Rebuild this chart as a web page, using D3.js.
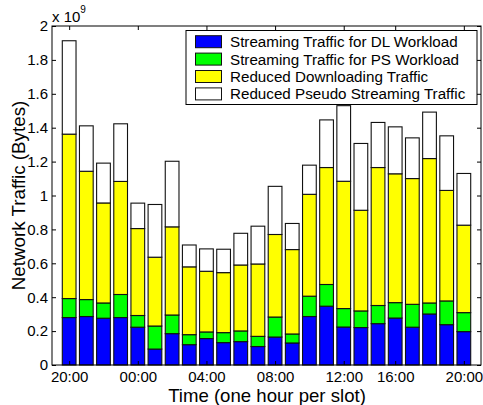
<!DOCTYPE html>
<html><head><meta charset="utf-8">
<script src="https://cdn.jsdelivr.net/npm/d3@7"></script>
<style>
html,body{margin:0;padding:0;background:#fff;}
svg{display:block;font-family:"Liberation Sans",Arial,sans-serif;}
</style></head>
<body><svg id="chart" width="483" height="405"></svg>
<script>
// values in units of 1e9 bytes, one per hourly slot
const slots = d3.range(1, 25);
const streamDL = [0.280,0.286,0.276,0.280,0.223,0.094,0.185,0.120,0.156,0.132,0.138,0.109,0.165,0.130,0.286,0.347,0.224,0.221,0.244,0.277,0.223,0.301,0.238,0.197];
const streamPS = [0.112,0.100,0.090,0.136,0.069,0.136,0.110,0.059,0.039,0.059,0.063,0.060,0.118,0.053,0.120,0.128,0.109,0.098,0.107,0.091,0.135,0.065,0.140,0.112];
const reducedDL = [0.970,0.757,0.590,0.667,0.513,0.406,0.520,0.400,0.358,0.354,0.389,0.427,0.487,0.498,0.601,0.690,0.751,0.594,0.814,0.760,0.742,0.852,0.652,0.516];
const reducedPS = [0.551,0.268,0.235,0.340,0.150,0.311,0.387,0.129,0.132,0.138,0.187,0.223,0.284,0.154,0.172,0.281,0.446,0.394,0.266,0.277,0.240,0.274,0.322,0.305];
const seriesNames = ["Streaming Traffic for DL Workload","Streaming Traffic for PS Workload","Reduced Downloading Traffic","Reduced Pseudo Streaming Traffic"];
const seriesColors = ["#0000ff","#00ff00","#ffff00","#ffffff"];
const xTickSlots = [1,5,9,13,17,20,24];
const xTickLabels = ["20:00","00:00","04:00","08:00","12:00","16:00","20:00"];
const yTicks = [0,0.2,0.4,0.6,0.8,1,1.2,1.4,1.6,1.8,2];

const svg = d3.select("#chart");
const L = 52, R = 481, T = 26, B = 365;
const x = d3.scaleLinear().domain([0,25]).range([L,R]);
const y = d3.scaleLinear().domain([0,2]).range([B,T]);
const fs = 15;

const table = slots.map((s,i)=>({slot:s, a:streamDL[i], b:streamPS[i], c:reducedDL[i], d:reducedPS[i]}));
const stack = d3.stack().keys(["a","b","c","d"])(table);
const bw = x(0.8) - x(0);

stack.forEach((layer,k)=>{
  svg.append("g").selectAll("rect").data(layer).join("rect")
    .attr("x", d=>x(d.data.slot) - bw/2)
    .attr("width", bw)
    .attr("y", d=>y(d[1]))
    .attr("height", d=>y(d[0]) - y(d[1]))
    .attr("fill", seriesColors[k])
    .attr("stroke", "#111")
    .attr("stroke-width", 1.1);
});

// axes
const fmtY = d=>d3.format("~g")(d);
const gB = svg.append("g").attr("transform",`translate(0,${B})`)
  .call(d3.axisBottom(x).tickValues(xTickSlots).tickFormat((d,i)=>xTickLabels[i]).tickSizeInner(-4).tickSizeOuter(0).tickPadding(6.5));
const gT = svg.append("g").attr("transform",`translate(0,${T})`)
  .call(d3.axisTop(x).tickValues(xTickSlots).tickFormat("").tickSizeInner(-4).tickSizeOuter(0));
const gL = svg.append("g").attr("transform",`translate(${L},0)`)
  .call(d3.axisLeft(y).tickValues(yTicks).tickFormat(fmtY).tickSizeInner(-4).tickSizeOuter(0).tickPadding(4));
const gR = svg.append("g").attr("transform",`translate(${R},0)`)
  .call(d3.axisRight(y).tickValues(yTicks).tickFormat("").tickSizeInner(-4).tickSizeOuter(0));
[gB,gT,gL,gR].forEach(g=>{
  g.select(".domain").remove();
  g.selectAll("line").attr("stroke","#000");
  g.selectAll("text").attr("font-size",fs).attr("fill","#000").attr("font-family","Liberation Sans, Arial, sans-serif");
});
svg.append("rect").attr("x",L).attr("y",T).attr("width",R-L).attr("height",B-T)
  .attr("fill","none").attr("stroke","#000").attr("stroke-width",1);

// exponent label
const ex = svg.append("text").attr("x",L).attr("y",21.5).attr("font-size",15).attr("fill","#000");
ex.append("tspan").text("x 10");
ex.append("tspan").attr("font-size",10).attr("dy",-9).text("9");

// axis titles
svg.append("text").attr("x",(L+R)/2 + 0.5).attr("y",402).attr("text-anchor","middle")
  .attr("font-size",18.6).attr("fill","#000").text("Time (one hour per slot)");
svg.append("text").attr("transform",`translate(24.5,${(T+B)/2}) rotate(-90)`).attr("text-anchor","middle")
  .attr("font-size",18.8).attr("fill","#000").text("Network Traffic (Bytes)");

// legend
const lg = svg.append("g");
lg.append("rect").attr("x",186).attr("y",30.5).attr("width",291).attr("height",74)
  .attr("fill","#fff").attr("stroke","#000").attr("stroke-width",1);
seriesNames.forEach((n,i)=>{
  const cy = 41.7 + i*17.4;
  lg.append("rect").attr("x",195.5).attr("y",cy-6).attr("width",26).attr("height",12)
    .attr("fill",seriesColors[i]).attr("stroke","#111").attr("stroke-width",1);
  lg.append("text").attr("x",230).attr("y",cy+5.4).attr("font-size",15.2).attr("fill","#000").text(n);
});
</script></body></html>
